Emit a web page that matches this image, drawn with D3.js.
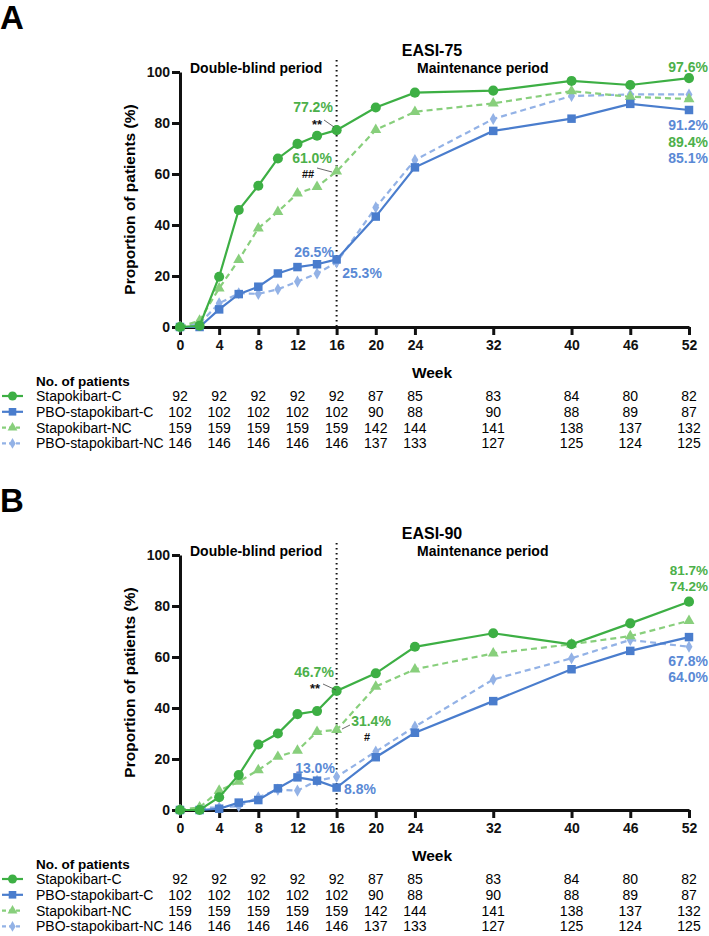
<!DOCTYPE html>
<html>
<head>
<meta charset="utf-8">
<script src="https://cdn.jsdelivr.net/npm/d3@7"></script>
<style>
  body { margin: 0; background: #fff; }
  svg { display: block; font-family: "Liberation Sans", Arial, sans-serif; }
</style>
</head>
<body>
<svg id="chart" width="709" height="936"></svg>
<script>
// weeks with a visit, tick weeks (also columns of the patient table)
const weeks = [0, 2, 4, 6, 8, 10, 12, 14, 16, 20, 24, 32, 40, 46, 52];
const tickWeeks = [0, 4, 8, 12, 16, 20, 24, 32, 40, 46, 52];
const yTicks = [0, 20, 40, 60, 80, 100];

const seriesNames = ["Stapokibart-C", "PBO-stapokibart-C", "Stapokibart-NC", "PBO-stapokibart-NC"];

// EASI-75 (%)
const stapC75 = [0, 0.5, 19.7, 45.9, 55.4, 66.1, 71.8, 75.0, 77.2, 86.1, 91.9, 92.7, 96.5, 94.9, 97.6];
const pboC75 = [0, 0, 6.9, 12.9, 15.8, 21.0, 23.5, 24.6, 26.5, 43.3, 62.6, 76.9, 81.7, 87.5, 85.1];
const stapNC75 = [0, 2.5, 15.2, 26.3, 38.7, 45.2, 52.4, 55.0, 61.0, 77.3, 84.4, 87.7, 92.5, 90.3, 89.4];
const pboNC75 = [0, 1.4, 9.3, 13.2, 13.0, 14.8, 17.8, 21.0, 25.3, 46.9, 65.5, 81.6, 90.6, 91.2, 91.2];

// EASI-90 (%)
const stapC90 = [0, 0, 5.0, 13.7, 25.7, 30.0, 37.6, 38.8, 46.7, 53.6, 64.0, 69.3, 65.0, 73.2, 81.7];
const pboC90 = [0, 0, 0.5, 2.9, 3.9, 8.5, 12.8, 11.5, 8.8, 20.7, 30.3, 42.7, 55.2, 62.4, 67.8];
const stapNC90 = [0, 1.0, 7.6, 11.1, 15.7, 20.9, 23.3, 30.7, 31.4, 48.4, 55.2, 61.4, 65.0, 68.2, 74.2];
const pboNC90 = [0, 0.8, 1.0, 1.5, 5.0, 8.0, 7.6, 11.5, 13.0, 22.9, 32.7, 51.2, 59.5, 66.7, 64.0];

// No. of patients at tickWeeks
const stapCN = [92, 92, 92, 92, 92, 87, 85, 83, 84, 80, 82];
const pboCN = [102, 102, 102, 102, 102, 90, 88, 90, 88, 89, 87];
const stapNCN = [159, 159, 159, 159, 159, 142, 144, 141, 138, 137, 132];
const pboNCN = [146, 146, 146, 146, 146, 137, 133, 127, 125, 124, 125];

const GREEN = "#3daf44", LGREEN = "#88cf7c", BLUE = "#4a7dcd", LBLUE = "#93b2e6";
const TGREEN = "#4cb04a", TBLUE = "#5a89d5";

const styles = [
  { color: GREEN, dash: null, shape: d3.symbolCircle, size: 80 },
  { color: BLUE, dash: null, shape: d3.symbolSquare, size: 72 },
  { color: LGREEN, dash: "6,4", shape: d3.symbolTriangle, size: 52 },
  { color: LBLUE, dash: "6,4", shape: d3.symbolDiamond, size: 42 }
];

const svg = d3.select("#chart");
const x = d3.scaleLinear().domain([0, 52]).range([180, 689]);

function drawPanel(top, letter, title, seriesList, notes) {
  const g = svg.append("g").attr("transform", `translate(0,${top})`);
  const y = d3.scaleLinear().domain([0, 100]).range([327, 72]);

  g.append("text").attr("x", 0).attr("y", 29).attr("font-size", 33).attr("font-weight", 700).text(letter);
  g.append("text").attr("x", 432).attr("y", 56).attr("text-anchor", "middle")
    .attr("font-size", 16).attr("font-weight", 700).text(title);

  g.append("text").attr("x", 190).attr("y", 73).attr("font-size", 14).attr("font-weight", 700).text("Double-blind period");
  g.append("text").attr("x", 417).attr("y", 73).attr("font-size", 14).attr("font-weight", 700).text("Maintenance period");

  g.append("line").attr("x1", x(16)).attr("x2", x(16)).attr("y1", 60).attr("y2", y(0))
    .attr("stroke", "#111").attr("stroke-width", 2).attr("stroke-dasharray", "1.5,3.5");

  // axes
  g.append("g").attr("transform", "translate(180,0)")
    .call(d3.axisLeft(y).tickValues(yTicks).tickSize(8).tickSizeOuter(0).tickPadding(2))
    .call((a) => a.selectAll("path,line").attr("stroke", "#111").attr("stroke-width", 3))
    .call((a) => a.selectAll("text").attr("fill", "#111").attr("font-size", 14).attr("font-weight", 700).attr("font-family", null));
  g.append("g").attr("transform", `translate(0,${y(0)})`)
    .call(d3.axisBottom(x).tickValues(tickWeeks).tickSize(8).tickSizeOuter(0).tickPadding(5))
    .call((a) => a.selectAll("path,line").attr("stroke", "#111").attr("stroke-width", 3))
    .call((a) => a.selectAll("text").attr("fill", "#111").attr("font-size", 14).attr("font-weight", 700).attr("font-family", null));

  g.append("text").attr("transform", `translate(135,${y(50)}) rotate(-90)`).attr("text-anchor", "middle")
    .attr("font-size", 15.5).attr("font-weight", 700).text("Proportion of patients (%)");
  g.append("text").attr("x", 432).attr("y", 378).attr("text-anchor", "middle")
    .attr("font-size", 15.5).attr("font-weight", 700).text("Week");

  // series, drawn back to front
  const line = d3.line().x((d) => x(d[0])).y((d) => y(d[1]));
  [3, 2, 1, 0].forEach((i) => {
    const st = styles[i];
    const pts = weeks.map((w, k) => [w, seriesList[i][k]]);
    g.append("path").attr("d", line(pts)).attr("fill", "none").attr("stroke", st.color)
      .attr("stroke-width", 2.2).attr("stroke-dasharray", st.dash);
    g.selectAll(null).data(pts).join("path")
      .attr("transform", (d) => `translate(${x(d[0])},${y(d[1])})`)
      .attr("d", d3.symbol().type(st.shape).size(st.size)).attr("fill", st.color);
  });

  // annotations
  notes.forEach((n) => {
    g.append("text").attr("x", n.x).attr("y", n.y).attr("text-anchor", n.anchor || "middle")
      .attr("font-size", n.size || 14).attr("font-weight", 700).attr("fill", n.color).text(n.text);
    if (n.lead) {
      g.append("line").attr("x1", n.lead[0]).attr("y1", n.lead[1]).attr("x2", n.lead[2]).attr("y2", n.lead[3])
        .attr("stroke", "#444").attr("stroke-width", 0.8);
    }
  });

  // patient table
  g.append("text").attr("x", 36).attr("y", 386).attr("font-size", 13.5).attr("font-weight", 700).text("No. of patients");
  const counts = [stapCN, pboCN, stapNCN, pboNCN];
  counts.forEach((row, i) => {
    const ry = 401 + i * 15.8;
    const st = styles[i];
    g.append("line").attr("x1", 2).attr("x2", 23).attr("y1", ry - 5).attr("y2", ry - 5)
      .attr("stroke", st.color).attr("stroke-width", 2.2).attr("stroke-dasharray", st.dash ? "4,3" : null);
    g.append("path").attr("transform", `translate(12.5,${ry - 5})`)
      .attr("d", d3.symbol().type(st.shape).size(st.size * 0.8)).attr("fill", st.color);
    g.append("text").attr("x", 36).attr("y", ry).attr("font-size", 14).text(seriesNames[i]);
    g.selectAll(null).data(row).join("text")
      .attr("x", (d, k) => x(tickWeeks[k])).attr("y", ry).attr("text-anchor", "middle")
      .attr("font-size", 14).text((d) => d);
  });
}

drawPanel(0, "A", "EASI-75", [stapC75, pboC75, stapNC75, pboNC75], [
  { text: "77.2%", x: 313, y: 112, color: TGREEN },
  { text: "**", x: 317, y: 129, color: "#111", size: 13, lead: [324, 120, 334, 127] },
  { text: "61.0%", x: 312, y: 163, color: TGREEN },
  { text: "##", x: 308, y: 178, color: "#111", size: 11, lead: [317, 168, 332, 172] },
  { text: "26.5%", x: 314, y: 257, color: TBLUE },
  { text: "25.3%", x: 362, y: 278, color: TBLUE },
  { text: "97.6%", x: 708, y: 72, color: TGREEN, anchor: "end" },
  { text: "91.2%", x: 708, y: 130, color: TBLUE, anchor: "end" },
  { text: "89.4%", x: 708, y: 147, color: TGREEN, anchor: "end" },
  { text: "85.1%", x: 708, y: 163, color: TBLUE, anchor: "end" }
]);

drawPanel(483, "B", "EASI-90", [stapC90, pboC90, stapNC90, pboNC90], [
  { text: "46.7%", x: 314, y: 194, color: TGREEN },
  { text: "**", x: 315, y: 210, color: "#111", size: 13, lead: [323, 201, 336, 207] },
  { text: "31.4%", x: 371, y: 243, color: TGREEN },
  { text: "#", x: 367, y: 258, color: "#111", size: 11, lead: [342, 246, 350, 242] },
  { text: "13.0%", x: 315, y: 290, color: TBLUE },
  { text: "8.8%", x: 360, y: 311, color: TBLUE },
  { text: "81.7%", x: 708, y: 92, color: TGREEN, anchor: "end", size: 13.5 },
  { text: "74.2%", x: 708, y: 108, color: TGREEN, anchor: "end", size: 13.5 },
  { text: "67.8%", x: 708, y: 183, color: TBLUE, anchor: "end" },
  { text: "64.0%", x: 708, y: 199, color: TBLUE, anchor: "end" }
]);
</script>
</body>
</html>
